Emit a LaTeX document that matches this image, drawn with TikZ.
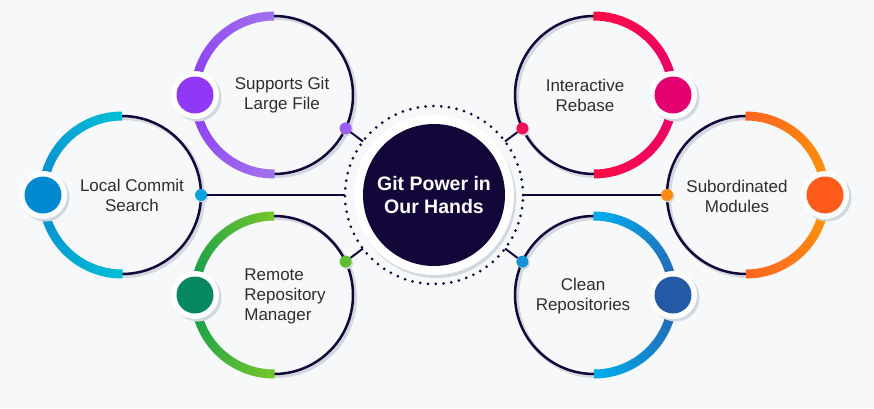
\documentclass[tikz,border=0pt]{standalone}
\usepackage{fontspec}
\setmainfont{Liberation Sans}
\usetikzlibrary{shadows}
\definecolor{bgpanel}{HTML}{F6F8FA}
\definecolor{navy}{HTML}{13073A}
\definecolor{shadowgray}{HTML}{D2D8DF}
\definecolor{textgray}{HTML}{2E2E2E}
% ring colours: end of arc, middle of arc, big dot, small dot
\definecolor{lfsend}{HTML}{A273EC}\definecolor{lfsmid}{HTML}{8A38F5}
\definecolor{lfsblob}{HTML}{9038F5}\definecolor{lfsjoint}{HTML}{9D5CF0}
\definecolor{localend}{HTML}{00BFD6}\definecolor{localmid}{HTML}{0A88CF}
\definecolor{localblob}{HTML}{0088D1}\definecolor{localjoint}{HTML}{0AA2DA}
\definecolor{remoteend}{HTML}{74C72A}\definecolor{remotemid}{HTML}{05984F}
\definecolor{remoteblob}{HTML}{078860}\definecolor{remotejoint}{HTML}{5DBE32}
\definecolor{rebaseend}{HTML}{FF0C45}\definecolor{rebasemid}{HTML}{E6006F}
\definecolor{rebaseblob}{HTML}{E5006F}\definecolor{rebasejoint}{HTML}{F2105A}
\definecolor{submodend}{HTML}{FF6520}\definecolor{submodmid}{HTML}{FF9A05}
\definecolor{submodblob}{HTML}{FF5C1B}\definecolor{submodjoint}{HTML}{FF8A12}
\definecolor{cleanend}{HTML}{00AEEF}\definecolor{cleanmid}{HTML}{2A5DA8}
\definecolor{cleanblob}{HTML}{2459A6}\definecolor{cleanjoint}{HTML}{1592D6}
\tikzset{
  ring/.style={circle, draw=navy, line width=2.5pt, minimum size=158pt,
               inner sep=0pt, outer sep=0pt,
               drop shadow={shadow xshift=2pt, shadow yshift=-2pt, fill=none,
                            draw=shadowgray, line width=4pt, opacity=1}},
  bigdot/.style={circle, fill=white, inner sep=0pt, minimum size=48pt,
                 drop shadow={shadow xshift=2.5pt, shadow yshift=-2.5pt,
                              fill=shadowgray, opacity=1},
                 path picture={\fill[#1] (path picture bounding box.center)
                               circle[radius=18.5pt];}},
  joint/.style={circle, fill=#1, inner sep=0pt, minimum size=12pt,
                drop shadow={shadow xshift=1.5pt, shadow yshift=-1.5pt,
                             fill=shadowgray, opacity=1}},
  dotring/.style={circle, draw=navy, line width=3pt, line cap=round,
                  dash pattern=on 0pt off 7.8pt, minimum size=178pt,
                  inner sep=0pt, outer sep=0pt},
  hub/.style={circle, fill=white, inner sep=0pt, minimum size=160pt,
              drop shadow={shadow xshift=2pt, shadow yshift=-3pt,
                           fill=shadowgray, opacity=1},
              path picture={\fill[navy] (path picture bounding box.center)
                            circle[radius=71pt];},
              text=white, align=center,
              font=\bfseries\fontsize{19.5}{23}\selectfont},
  itemtext/.style={text=textgray, align=center,
                   font=\fontsize{17}{20}\selectfont},
  link/.style={draw=navy, line width=2pt},
}
% half ring in a gradient: ring node, middle angle, end colour, middle colour
\newcommand{\gradarc}[4]{%
  \foreach \i in {-18,...,17} {
    \pgfmathtruncatemacro{\a}{#2+\i*5}
    \pgfmathtruncatemacro{\p}{abs(\i+0.5)/18*100}
    \draw[line width=9pt, color=#3!\p!#4] (#1.\a)
      arc[start angle=\a, end angle=\a+5.4, radius=79pt];
  }}

\begin{document}
\begin{tikzpicture}[x=1pt,y=1pt]
\fill[bgpanel] (0,0) rectangle (874,408);
\useasboundingbox (0,0) rectangle (874,408);

% centre
\node[dotring] (hubring) at (434,213) {};
\node[hub] (hub) at (hubring) {Git Power in\\Our Hands};

% the six rings
\node[ring] (lfs)    at (274,313) {};
\node[ring] (local)  at (122,213) {};
\node[ring] (remote) at (274,113) {};
\node[ring] (rebase) at (594,313) {};
\node[ring] (submod) at (746,213) {};
\node[ring] (clean)  at (594,113) {};

\gradarc{lfs}{180}{lfsend}{lfsmid}
\gradarc{local}{180}{localend}{localmid}
\gradarc{remote}{180}{remoteend}{remotemid}
\gradarc{rebase}{0}{rebaseend}{rebasemid}
\gradarc{submod}{0}{submodend}{submodmid}
\gradarc{clean}{0}{cleanend}{cleanmid}

\node[bigdot=lfsblob]    (lfsbig)    at (lfs.west)    {};
\node[bigdot=localblob]  (localbig)  at (local.west)  {};
\node[bigdot=remoteblob] (remotebig) at (remote.west) {};
\node[bigdot=rebaseblob] (rebasebig) at (rebase.east) {};
\node[bigdot=submodblob] (submodbig) at (submod.east) {};
\node[bigdot=cleanblob]  (cleanbig)  at (clean.east)  {};

% links to the centre
\node[joint=lfsjoint]    (lfsj)    at (lfs.-25)    {};
\node[joint=localjoint]  (localj)  at (local.east) {};
\node[joint=remotejoint] (remotej) at (remote.25)  {};
\node[joint=rebasejoint] (rebasej) at (rebase.205) {};
\node[joint=submodjoint] (submodj) at (submod.west) {};
\node[joint=cleanjoint]  (cleanj)  at (clean.155)  {};
\draw[link] (hubring) -- (lfsj);
\draw[link] (hubring) -- (localj);
\draw[link] (hubring) -- (remotej);
\draw[link] (hubring) -- (rebasej);
\draw[link] (hubring) -- (submodj);
\draw[link] (hubring) -- (cleanj);

% texts
\node[itemtext] (lfstext)    at (282,313) {Supports Git\\Large File};
\node[itemtext] (localtext)  at (132,213) {Local Commit\\Search};
\node[itemtext, align=left] (remotetext) at (285,112) {Remote\\Repository\\Manager};
\node[itemtext] (rebasetext) at (585,313) {Interactive\\Rebase};
\node[itemtext] (submodtext) at (737,212) {Subordinated\\Modules};
\node[itemtext] (cleantext)  at (583,112) {Clean\\Repositories};
\end{tikzpicture}
\end{document}
